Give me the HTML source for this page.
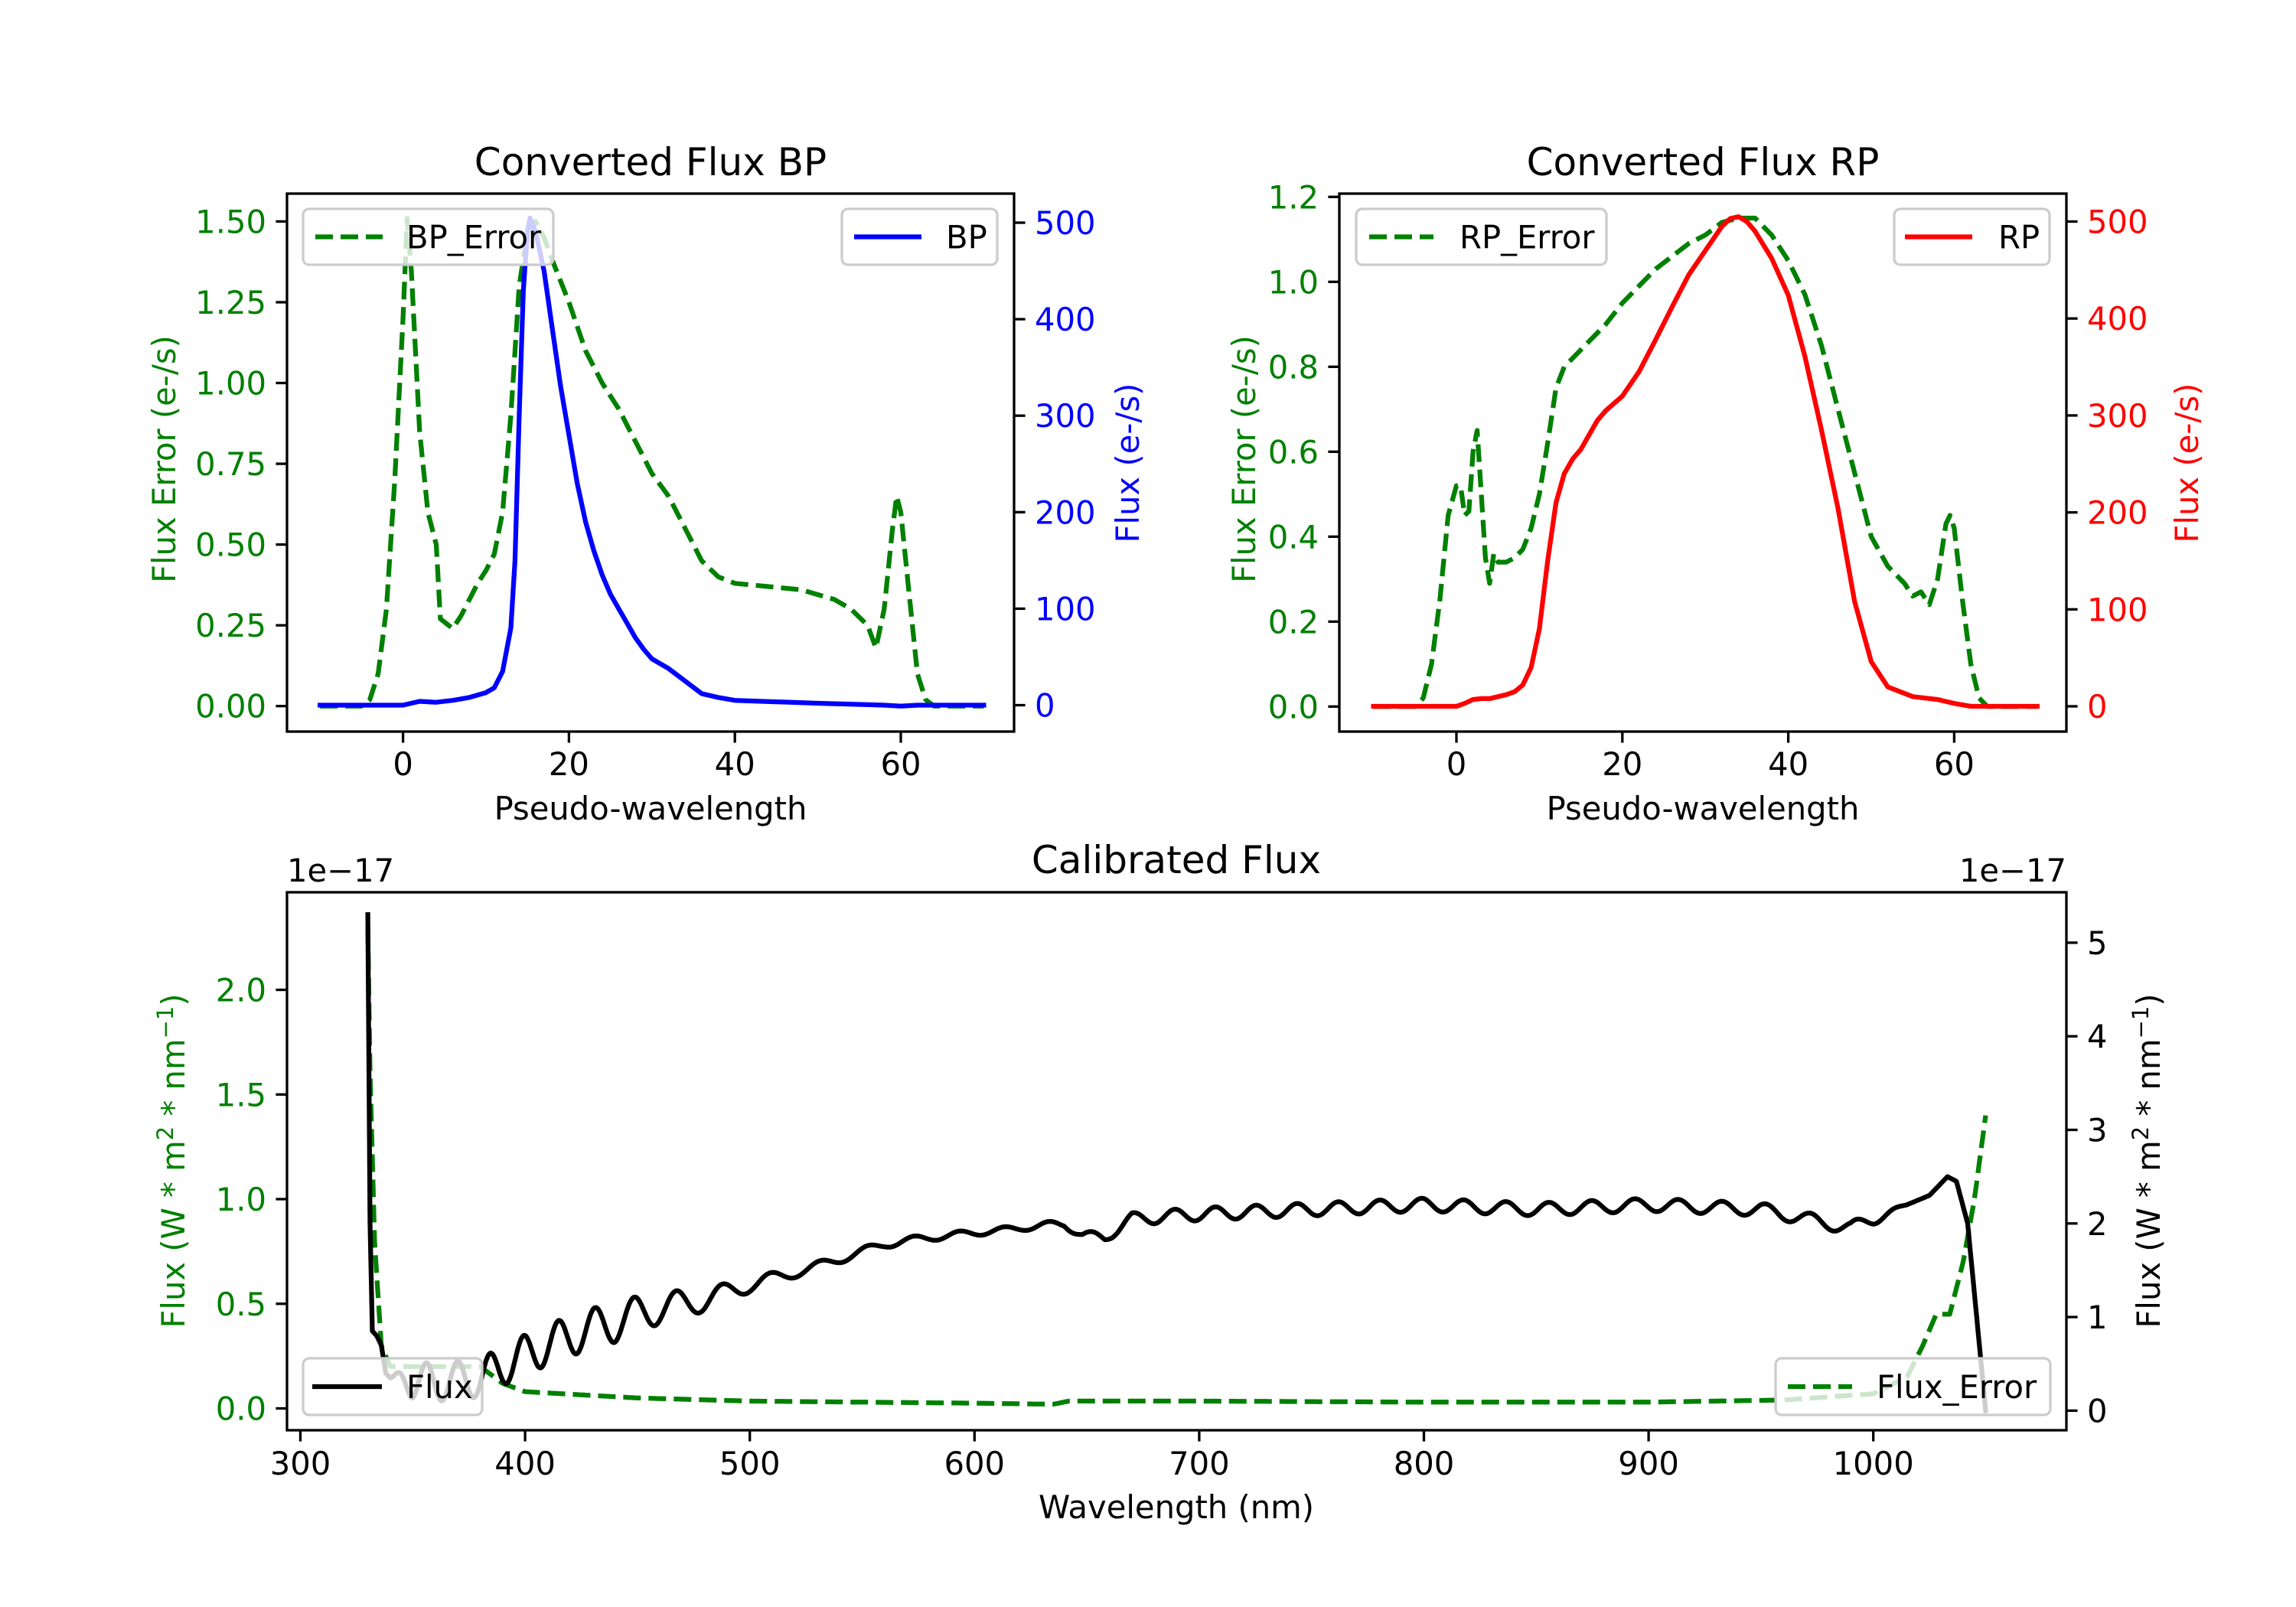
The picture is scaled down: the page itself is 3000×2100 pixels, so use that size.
<!DOCTYPE html>
<html><head><meta charset="utf-8">
<style>
html,body{margin:0;padding:0;background:#fff;}
svg{display:block;font-family:"DejaVu Sans","Liberation Sans",sans-serif;}
</style></head>
<body>
<svg id="s" width="3000" height="2100" viewBox="0 0 3000 2100" xmlns="http://www.w3.org/2000/svg">
<rect width="3000" height="2100" fill="#fff"/>
<g id="plots"></g>
<g id="fg"></g>
</svg>
<script>
const NS="http://www.w3.org/2000/svg";
const P=document.getElementById('plots'), F=document.getElementById('fg');
function el(par,tag,attrs,txt){const e=document.createElementNS(NS,tag);for(const k in attrs)e.setAttribute(k,attrs[k]);if(txt!==undefined)e.textContent=txt;par.appendChild(e);return e;}
function interp(pts,x){if(x<=pts[0][0])return pts[0][1];for(let i=1;i<pts.length;i++){if(x<=pts[i][0]){const a=pts[i-1],b=pts[i];return a[1]+(b[1]-a[1])*(x-a[0])/(b[0]-a[0]);}}return pts[pts.length-1][1];}
function path(par,pts,fx,fy,color,dash){let d='';pts.forEach((p,i)=>{d+=(i?'L':'M')+fx(p[0]).toFixed(1)+' '+fy(p[1]).toFixed(1);});
 const a={d:d,fill:'none',stroke:color,'stroke-width':6.25,'stroke-linejoin':'round','stroke-linecap':dash?'butt':'square'};if(dash)a['stroke-dasharray']='23 10';el(par,'path',a);}
function dense(pts,x0,x1,step){const r=[];for(let x=x0;x<=x1+1e-9;x+=step)r.push([x,interp(pts,x)]);return r;}
function txt(par,x,y,s,opt){opt=opt||{};const a={x:x,y:y,'font-size':opt.fs||41.7,fill:opt.c||'#000','text-anchor':opt.a||'middle'};if(opt.tr)a.transform=opt.tr;return el(par,'text',a,s);}
function frame(x0,y0,x1,y1){el(F,'rect',{x:x0,y:y0,width:x1-x0,height:y1-y0,fill:'none',stroke:'#000','stroke-width':3.3});}
function legend(x0,y0,x1,y1,hx0,hx1,tx,label,color,dash){
 el(F,'rect',{x:x0,y:y0,width:x1-x0,height:y1-y0,rx:8,fill:'rgba(255,255,255,0.8)',stroke:'#cccccc','stroke-width':3.3});
 const ym=(y0+y1)/2;const a={x1:hx0,x2:hx1,y1:ym,y2:ym,stroke:color,'stroke-width':6.25};if(dash)a['stroke-dasharray']='23 10';el(F,'line',a);
 txt(F,tx,ym+15,label,{a:'start'});}
function yticksL(x,vals,fy,fmt,c){vals.forEach(v=>{const y=fy(v);el(F,'line',{x1:x-14.6,x2:x,y1:y,y2:y,stroke:'#000','stroke-width':3.3});txt(F,x-27,y+15,fmt(v),{a:'end',c:c});});}
function yticksR(x,vals,fy,fmt,c){vals.forEach(v=>{const y=fy(v);el(F,'line',{x1:x,x2:x+14.6,y1:y,y2:y,stroke:'#000','stroke-width':3.3});txt(F,x+27,y+15,fmt(v),{a:'start',c:c});});}
function xticks(y,vals,fx,by){vals.forEach(v=>{const x=fx(v);el(F,'line',{x1:x,x2:x,y1:y,y2:y+14.6,stroke:'#000','stroke-width':3.3});txt(F,x,by,String(v));});}

// ===== BP =====
(function(){
 const L=375,R=1325,T=253,B=956;
 const fx=u=>526.6+u*10.84, fyL=v=>922.7-v*422.2, fyR=v=>921.5-v*1.261;
 const err=[[-10,0],[-5,0],[-4,0.02],[-3,0.1],[-2,0.3],[-1,0.7],[0,1.2],[0.5,1.51],[1,1.35],[2,0.85],[3,0.6],[4,0.5],[4.5,0.27],[5,0.26],[6,0.24],[7,0.28],[8,0.33],[9,0.38],[10,0.42],[11,0.47],[12,0.6],[13,0.9],[14,1.3],[15,1.47],[16,1.5],[17,1.45],[18,1.38],[20,1.25],[22,1.1],[24,1.0],[26,0.92],[28,0.82],[30,0.72],[32,0.65],[34,0.55],[36,0.45],[38,0.40],[40,0.38],[44,0.37],[48,0.36],[52,0.33],[54,0.30],[56,0.25],[57,0.18],[58,0.3],[59,0.55],[59.5,0.65],[60,0.6],[61,0.35],[62,0.1],[63,0.02],[64,0],[70,0]];
 const fl=[[-10,0],[0,0],[2,4],[4,3],[6,5],[8,8],[10,13],[11,18],[12,35],[13,80],[13.5,150],[14,300],[14.5,430],[15,490],[15.3,505],[16,490],[17,450],[18,390],[19,330],[20,280],[21,230],[22,190],[23,160],[24,135],[25,115],[26,100],[27,85],[28,70],[29,58],[30,48],[32,38],[34,25],[36,12],[38,8],[40,5],[50,2],[58,0],[60,-1],[62,0],[70,0]];
 path(P,err,fx,fyL,'green',true);
 path(P,fl,fx,fyR,'blue',false);
 frame(L,T,R,B);
 yticksL(L,[0,0.25,0.5,0.75,1.0,1.25,1.5],fyL,v=>v.toFixed(2),'green');
 yticksR(R,[0,100,200,300,400,500],fyR,v=>String(v),'blue');
 xticks(B,[0,20,40,60],fx,1013);
 txt(F,850,229,'Converted Flux BP',{fs:50});
 txt(F,850,1071,'Pseudo-wavelength');
 txt(F,0,0,'Flux Error (e-/s)',{c:'green',tr:'translate(229,600) rotate(-90)'});
 txt(F,0,0,'Flux (e-/s)',{c:'blue',tr:'translate(1488,605) rotate(-90)'});
 legend(396,273,723,346,412,500,531,'BP_Error','green',true);
 legend(1100,273,1303,346,1116,1204,1236,'BP','blue',false);
})();

// ===== RP =====
(function(){
 const L=1750,R=2700,T=253,B=956;
 const fx=u=>1903+u*10.84, fyL=v=>923.3-v*555, fyR=v=>923-v*1.267;
 const err=[[-10,0],[-5,0],[-4,0.02],[-3,0.1],[-2,0.25],[-1,0.45],[0,0.52],[0.5,0.52],[1,0.45],[1.5,0.46],[2,0.6],[2.5,0.65],[3,0.5],[3.5,0.35],[4,0.29],[4.5,0.36],[5,0.34],[6,0.34],[7,0.35],[8,0.37],[9,0.42],[10,0.5],[11,0.62],[12,0.75],[13,0.8],[14,0.82],[16,0.86],[18,0.9],[20,0.95],[22,0.99],[24,1.03],[26,1.06],[28,1.09],[30,1.11],[32,1.14],[34,1.15],[36,1.15],[38,1.11],[40,1.05],[42,0.97],[44,0.85],[46,0.7],[48,0.55],[50,0.4],[52,0.33],[54,0.29],[55,0.26],[56,0.27],[57,0.24],[58,0.3],[59,0.43],[59.5,0.45],[60,0.42],[61,0.25],[62,0.1],[63,0.02],[64,0],[70,0]];
 const fl=[[-10,0],[0,0],[1,3],[2,7],[3,8],[4,8],[6,12],[7,15],[8,22],[9,40],[10,80],[11,150],[12,210],[13,240],[14,255],[15,265],[16,280],[17,295],[18,305],[20,320],[22,345],[24,378],[26,412],[28,445],[30,470],[32,495],[33,503],[34,505],[35,500],[36,490],[38,462],[40,424],[42,361],[44,285],[46,204],[48,108],[50,46],[52,20],[55,10],[58,7],[60,3],[62,0],[70,0]];
 path(P,err,fx,fyL,'green',true);
 path(P,fl,fx,fyR,'red',false);
 frame(L,T,R,B);
 yticksL(L,[0,0.2,0.4,0.6,0.8,1.0,1.2],fyL,v=>v.toFixed(1),'green');
 yticksR(R,[0,100,200,300,400,500],fyR,v=>String(v),'red');
 xticks(B,[0,20,40,60],fx,1013);
 txt(F,2225,229,'Converted Flux RP',{fs:50});
 txt(F,2225,1071,'Pseudo-wavelength');
 txt(F,0,0,'Flux Error (e-/s)',{c:'green',tr:'translate(1640,600) rotate(-90)'});
 txt(F,0,0,'Flux (e-/s)',{c:'red',tr:'translate(2872,605) rotate(-90)'});
 legend(1772,273,2099,346,1789,1873,1907,'RP_Error','green',true);
 legend(2475,273,2678,346,2489,2577,2611,'RP','red',false);
})();

// ===== Calibrated =====
(function(){
 const L=375,R=2700,T=1166,B=1869;
 const fx=w=>392.5+(w-300)*2.936, fyL=v=>1840.5-v*273.5, fyR=v=>1843.4-v*122.3;
 const ep=[[330,2.3],[331,1.6],[333,0.8],[336,0.3],[340,0.2],[380,0.2],[390,0.12],[400,0.08],[450,0.05],[500,0.035],[600,0.025],[635,0.02],[642,0.035],[700,0.035],[800,0.03],[900,0.03],[960,0.04],[1000,0.07],[1015,0.15],[1022,0.3],[1028,0.45],[1034,0.45],[1040,0.7],[1045,1.0],[1050,1.4]];
 path(P,dense(ep,330,1050,1),fx,fyL,'green',true);
 const base=[[340,0.35],[360,0.3],[380,0.35],[400,0.6],[420,0.8],[440,0.95],[460,1.1],[480,1.18],[500,1.35],[520,1.47],[540,1.62],[560,1.78],[580,1.85],[600,1.9],[620,1.95],[640,2.0],[648,1.87],[658,1.85],[670,2.05],[700,2.1],[750,2.15],[800,2.2],[850,2.15],[900,2.2],[950,2.15],[990,1.95],[1010,2.15],[1025,2.3],[1033,2.5],[1037,2.45],[1042,2.0],[1046,1.0],[1050,0]];
 const amp=[[340,0],[350,0.2],[440,0.22],[480,0.12],[520,0.05],[620,0.03],[680,0.07],[1000,0.07],[1015,0]];
 const per=[[340,13],[420,16],[500,22],[700,18],[1000,20]];
 const pts=[[330,5.3],[331,2.0],[332,0.85],[334,0.8],[336,0.7],[338,0.4]];
 let ph=0;
 for(let i=0;i<=1420;i++){const w=340+i*0.5;ph+=2*Math.PI*0.5/interp(per,w);pts.push([w,interp(base,w)+interp(amp,w)*Math.sin(ph)]);}
 pts.push([1050,0]);
 path(P,pts,fx,fyR,'black',false);
 frame(L,T,R,B);
 yticksL(L,[0,0.5,1.0,1.5,2.0],fyL,v=>v.toFixed(1),'green');
 yticksR(R,[0,1,2,3,4,5],fyR,v=>String(v),'#000');
 xticks(B,[300,400,500,600,700,800,900,1000],fx,1927);
 txt(F,1537,1141,'Calibrated Flux',{fs:50});
 txt(F,1537,1984,'Wavelength (nm)');
 txt(F,375,1152,'1e\u221217',{a:'start'});
 txt(F,2700,1152,'1e\u221217',{a:'end'});
 const yl=(x,c)=>{const t=txt(F,0,0,'',{c:c,tr:'translate('+x+',1517) rotate(-90)'});
  el(t,'tspan',{},'Flux (W * m');el(t,'tspan',{dy:-15,'font-size':29},'2');el(t,'tspan',{dy:15},' * nm');el(t,'tspan',{dy:-15,'font-size':29},'\u22121');el(t,'tspan',{dy:15},')');};
 yl(241,'green'); yl(2822,'#000');
 legend(396,1775,630,1849,408,499,531,'Flux','black',false);
 legend(2320,1775,2679,1849,2336,2420,2452,'Flux_Error','green',true);
})();
</script>
</body></html>
